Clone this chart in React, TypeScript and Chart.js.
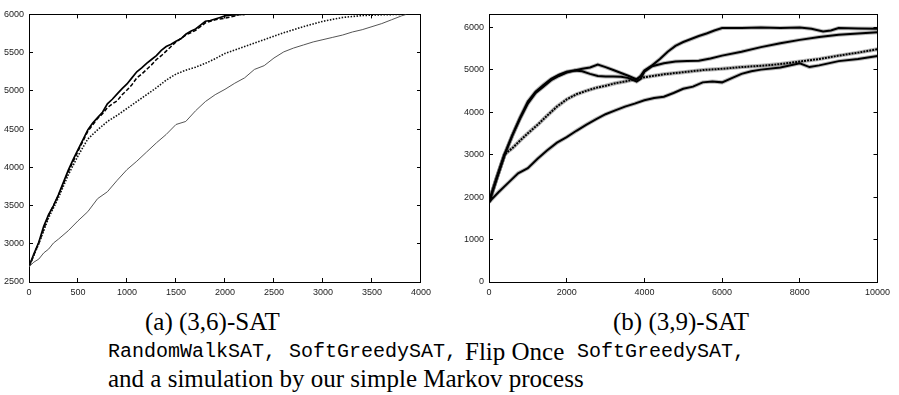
import React, { useEffect, useRef } from "react";
import { Chart, registerables } from "chart.js";
Chart.register(...registerables);

// ---------- (a) (3,6)-SAT ----------
const aXTicks = [0, 500, 1000, 1500, 2000, 2500, 3000, 3500, 4000];
const aYTicks = [2500, 3000, 3500, 4000, 4500, 5000, 5500, 6000];

const aSolidX = [0, 50, 100, 150, 200, 250, 300, 350, 400, 450, 500, 550, 600, 650, 700, 750, 800, 850, 900, 950, 1000, 1050, 1100, 1150, 1200, 1250, 1300, 1350, 1400, 1450, 1500, 1550, 1600, 1650, 1700, 1750, 1800, 1850, 1900, 1950, 2000, 2050, 2100, 2150, 2200];
const aSolidY = [2700, 2870, 3020, 3230, 3380, 3500, 3640, 3800, 3960, 4100, 4230, 4360, 4490, 4580, 4650, 4720, 4830, 4890, 4960, 5030, 5090, 5170, 5250, 5300, 5360, 5410, 5460, 5530, 5580, 5610, 5650, 5680, 5740, 5780, 5810, 5860, 5910, 5920, 5940, 5960, 5980, 5990, 5995, 6000, 6000];

const aDashX = [0, 100, 200, 300, 400, 500, 600, 700, 750, 800, 850, 900, 950, 1000, 1050, 1100, 1150, 1200, 1250, 1300, 1350, 1400, 1450, 1500, 1600, 1700, 1800, 1900, 2000, 2100, 2150, 2200];
const aDashY = [2700, 3010, 3370, 3630, 3940, 4210, 4470, 4640, 4700, 4780, 4830, 4870, 4950, 5010, 5080, 5170, 5220, 5280, 5340, 5410, 5460, 5520, 5580, 5640, 5730, 5790, 5890, 5930, 5950, 5980, 6000, 6000];

const aDotX = [0, 100, 200, 300, 400, 500, 600, 650, 700, 800, 900, 1000, 1100, 1200, 1300, 1400, 1500, 1600, 1700, 1800, 1900, 2000, 2200, 2400, 2600, 2800, 3000, 3200, 3400, 3600, 3800];
const aDotY = [2700, 3000, 3340, 3600, 3900, 4150, 4370, 4430, 4490, 4600, 4680, 4770, 4860, 4950, 5040, 5140, 5220, 5270, 5310, 5360, 5420, 5490, 5580, 5670, 5760, 5840, 5910, 5960, 5985, 5995, 6000];

const aThinX = [0, 50, 100, 150, 200, 250, 300, 400, 500, 600, 700, 800, 900, 1000, 1100, 1200, 1300, 1400, 1500, 1600, 1700, 1800, 1900, 2000, 2100, 2200, 2300, 2400, 2500, 2600, 2700, 2800, 2900, 3000, 3100, 3200, 3300, 3400, 3500, 3600, 3700, 3800, 3850];
const aThinY = [2700, 2760, 2800, 2880, 2930, 3010, 3060, 3170, 3300, 3420, 3590, 3680, 3830, 3970, 4080, 4200, 4320, 4430, 4560, 4600, 4740, 4860, 4950, 5020, 5100, 5170, 5280, 5330, 5430, 5510, 5560, 5600, 5640, 5670, 5700, 5730, 5770, 5800, 5840, 5880, 5930, 5980, 6000];

// ---------- (b) (3,9)-SAT ----------
const bXTicks = [0, 2000, 4000, 6000, 8000, 10000];
const bYTicks = [0, 1000, 2000, 3000, 4000, 5000, 6000];

const bTopX = [0, 200, 400, 600, 800, 1000, 1200, 1400, 1600, 1800, 2000, 2200, 2400, 2600, 2800, 3000, 3200, 3400, 3600, 3800, 3900, 4000, 4200, 4400, 4600, 4800, 5000, 5200, 5400, 5600, 5800, 6000, 6500, 7000, 7500, 8000, 8300, 8600, 8800, 9000, 9500, 10000];
const bTopY = [1880, 2450, 3000, 3450, 3870, 4250, 4480, 4640, 4780, 4880, 4950, 4980, 5020, 5050, 5120, 5060, 4990, 4920, 4850, 4770, 4850, 4980, 5100, 5250, 5420, 5560, 5650, 5720, 5790, 5850, 5920, 5980, 5980, 5990, 5980, 5990, 5960, 5900, 5920, 5980, 5970, 5960];

const bSecondX = [0, 200, 400, 600, 800, 1000, 1200, 1400, 1600, 1800, 2000, 2200, 2400, 2600, 2800, 3000, 3200, 3400, 3600, 3800, 3900, 4000, 4200, 4500, 4800, 5100, 5400, 5700, 6000, 6500, 7000, 7500, 8000, 8500, 9000, 9500, 10000];
const bSecondY = [1880, 2450, 3000, 3450, 3850, 4200, 4450, 4600, 4750, 4850, 4930, 4980, 4960, 4900, 4850, 4840, 4840, 4830, 4800, 4720, 4780, 4950, 5080, 5150, 5190, 5200, 5210, 5260, 5330, 5420, 5530, 5620, 5700, 5770, 5820, 5850, 5880];

const bMidX = [0, 200, 400, 500, 600, 800, 1000, 1250, 1500, 1750, 2000, 2250, 2500, 2750, 3000, 3250, 3500, 3750, 4000, 4500, 5000, 5500, 6000, 6500, 7000, 7500, 8000, 8500, 9000, 9500, 10000];
const bMidY = [1880, 2450, 3000, 3080, 3150, 3330, 3500, 3700, 3920, 4130, 4300, 4420, 4500, 4570, 4620, 4680, 4720, 4770, 4820, 4890, 4940, 4990, 5020, 5060, 5090, 5130, 5190, 5250, 5330, 5400, 5480];

const bLowX = [0, 250, 500, 750, 1000, 1250, 1500, 1750, 2000, 2250, 2500, 2750, 3000, 3250, 3500, 3750, 4000, 4250, 4500, 4750, 5000, 5250, 5500, 5750, 6000, 6250, 6500, 6750, 7000, 7500, 8000, 8250, 8500, 9000, 9500, 10000];
const bLowY = [1880, 2120, 2340, 2560, 2680, 2900, 3100, 3280, 3410, 3560, 3700, 3830, 3950, 4040, 4130, 4200, 4280, 4330, 4360, 4450, 4550, 4600, 4700, 4720, 4700, 4800, 4900, 4960, 5000, 5050, 5150, 5060, 5100, 5200, 5250, 5320];

const pts = (xs: number[], ys: number[]) => xs.map((x, i) => ({ x, y: ys[i] }));

const tickFont = { family: "'Liberation Sans', Arial, sans-serif", size: 9 };
const plain = (v: any) => String(v);

function makeScales(xMin: number, xMax: number, xTicks: number[], yMin: number, yMax: number, yTicks: number[], yWidth: number) {
  const grid = { drawOnChartArea: false, drawTicks: true, tickLength: -4, tickColor: "#000", tickWidth: 1 };
  const border = { display: true, color: "#000", width: 1 };
  const setX = (a: any) => { a.ticks = xTicks.map((v) => ({ value: v })); };
  const setY = (a: any) => { a.ticks = yTicks.map((v) => ({ value: v })); };
  return {
    x: {
      type: "linear", axis: "x", position: "bottom", min: xMin, max: xMax, grid, border,
      afterBuildTicks: setX,
      ticks: { font: tickFont, color: "#222", padding: 9, maxRotation: 0, autoSkip: false, callback: plain },
      afterFit: (a: any) => { a.height = 18; },
    },
    x2: {
      type: "linear", axis: "x", position: "top", min: xMin, max: xMax, grid, border,
      afterBuildTicks: setX,
      ticks: { display: false },
      afterFit: (a: any) => { a.height = 0; },
    },
    y: {
      type: "linear", axis: "y", position: "left", min: yMin, max: yMax, grid, border,
      afterBuildTicks: setY,
      ticks: { font: tickFont, color: "#222", padding: 9, autoSkip: false, callback: plain },
      afterFit: (a: any) => { a.width = yWidth; },
    },
    y2: {
      type: "linear", axis: "y", position: "right", min: yMin, max: yMax, grid, border,
      afterBuildTicks: setY,
      ticks: { display: false },
      afterFit: (a: any) => { a.width = 0; },
    },
  };
}

function ChartCanvas({ config, left, width }: { config: any; left: number; width: number }) {
  const ref = useRef<HTMLCanvasElement>(null);
  useEffect(() => {
    if (!ref.current) return;
    const chart = new Chart(ref.current, config);
    return () => chart.destroy();
  }, []);
  return (
    <canvas
      ref={ref}
      width={width}
      height={300}
      style={{ position: "absolute", left, top: 0, width, height: 300 }}
    />
  );
}

const line = (data: any, color: string, width: number, dash: number[]) => ({
  data, borderColor: color, borderWidth: width, borderDash: dash,
  pointRadius: 0, tension: 0, fill: false, xAxisID: "x", yAxisID: "y",
});

const baseOptions = (scales: any, padRight: number) => ({
  type: "line",
  options: {
    responsive: false, animation: false, devicePixelRatio: 1,
    layout: { padding: { top: 7, right: padRight, left: 0, bottom: 0 } },
    plugins: { legend: { display: false }, tooltip: { enabled: false }, title: { display: false } },
    scales,
  },
});

const configA = {
  ...baseOptions(makeScales(0, 4000, aXTicks, 2500, 6000, aYTicks, 29), 16),
  data: {
    datasets: [
      line(pts(aThinX, aThinY), "#555", 1, []),
      line(pts(aDotX, aDotY), "#111", 1.6, [1.5, 1.5]),
      line(pts(aDashX, aDashY), "#000", 1.5, [4, 2]),
      line(pts(aSolidX, aSolidY), "#000", 1.7, []),
    ],
  },
};

const halo = "rgba(0,0,0,0.28)";
const configB = {
  ...baseOptions(makeScales(0, 10000, bXTicks, 0, 6300, bYTicks, 40), 13),
  data: {
    datasets: [
      line(pts(bLowX, bLowY), halo, 4, []),
      line(pts(bMidX, bMidY), halo, 4, []),
      line(pts(bSecondX, bSecondY), halo, 4, []),
      line(pts(bTopX, bTopY), halo, 4, []),
      line(pts(bLowX, bLowY), "#000", 2, []),
      line(pts(bMidX, bMidY), "#000", 2, [2, 1]),
      line(pts(bSecondX, bSecondY), "#000", 2, []),
      line(pts(bTopX, bTopY), "#000", 2, []),
    ],
  },
};

const serif = "'Liberation Serif', 'Times New Roman', serif";
const mono = "'Liberation Mono', 'Courier New', monospace";

const txt = (left: number, top: number, size: number, family: string, s: string) => (
  <div style={{ position: "absolute", left, top, fontFamily: family, fontSize: size, lineHeight: "25px", whiteSpace: "nowrap", color: "#000" }}>{s}</div>
);

export default function App() {
  return (
    <div style={{ position: "absolute", left: 0, top: 0, width: 899, height: 395, background: "#fff", overflow: "hidden" }}>
      <ChartCanvas config={configA} left={0} width={440} />
      <ChartCanvas config={configB} left={449} width={450} />
      {txt(145, 309, 25, serif, "(a) (3,6)-SAT")}
      {txt(613, 309, 25, serif, "(b) (3,9)-SAT")}
      {txt(108, 339, 20, mono, "RandomWalkSAT,")}
      {txt(289, 339, 20, mono, "SoftGreedySAT,")}
      {txt(465, 339, 25, serif, "Flip Once")}
      {txt(577, 339, 20, mono, "SoftGreedySAT,")}
      {txt(108, 366, 25, serif, "and a simulation by our simple Markov process")}
    </div>
  );
}
